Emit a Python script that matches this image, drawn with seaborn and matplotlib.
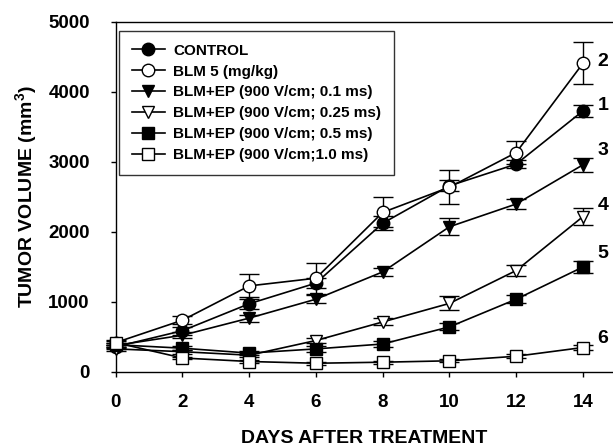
import numpy as np
import pandas as pd
import matplotlib
matplotlib.use("Agg")
import matplotlib.pyplot as plt
import seaborn as sns

days = [0, 2, 4, 6, 8, 10, 12, 14]
series_names = ["CONTROL", "BLM 5 (mg/kg)", "BLM+EP (900 V/cm; 0.1 ms)",
                "BLM+EP (900 V/cm; 0.25 ms)", "BLM+EP (900 V/cm; 0.5 ms)",
                "BLM+EP (900 V/cm;1.0 ms)"]
control = [360, 590, 975, 1270, 2125, 2660, 2970, 3730]
blm5 = [420, 740, 1230, 1340, 2280, 2640, 3135, 4410]
ep01 = [380, 525, 770, 1040, 1430, 2075, 2400, 2960]
ep025 = [330, 290, 240, 450, 715, 980, 1450, 2220]
ep05 = [390, 340, 270, 330, 400, 645, 1040, 1500]
ep10 = [420, 200, 150, 125, 140, 160, 225, 350]
control_err = [30, 60, 70, 70, 100, 80, 60, 90]
blm5_err = [40, 60, 165, 220, 215, 240, 165, 300]
ep01_err = [30, 40, 50, 60, 60, 120, 70, 100]
ep025_err = [30, 30, 30, 40, 50, 100, 85, 125]
ep05_err = [30, 30, 30, 40, 40, 50, 60, 80]
ep10_err = [30, 20, 20, 20, 20, 20, 30, 40]
curve_labels = ["1", "2", "3", "4", "5", "6"]
curve_label_y = [3810, 4430, 3170, 2385, 1700, 485]

values = [control, blm5, ep01, ep025, ep05, ep10]
errors = [control_err, blm5_err, ep01_err, ep025_err, ep05_err, ep10_err]
markers = ["o", "o", "v", "v", "s", "s"]
faces = ["black", "white", "black", "white", "black", "white"]
sizes = [9, 9, 9, 9, 8.5, 8.5]

plt.rcParams['font.family'] = ['Liberation Sans', 'DejaVu Sans']
plt.rcParams['font.weight'] = 'bold'
plt.rcParams['mathtext.fontset'] = 'custom'
plt.rcParams['mathtext.bf'] = 'Liberation Sans:bold'
plt.rcParams['mathtext.rm'] = 'Liberation Sans:bold'

fig = plt.figure(figsize=(6.13, 4.46), dpi=100)
ax = fig.add_axes([115.7 / 613, 74 / 446, (613 - 115.7) / 613, 350 / 446])

frames = []
for name, v in zip(series_names, values):
    frames.append(pd.DataFrame({"day": days, "vol": v, "group": name}))
df = pd.concat(frames, ignore_index=True)

handles = []
for i, name in enumerate(series_names):
    sub = df[df["group"] == name]
    ax.errorbar(sub["day"], sub["vol"], yerr=errors[i], fmt="none", ecolor="black",
                elinewidth=1.0, capsize=7, capthick=1.0, zorder=2, clip_on=False)
    sns.lineplot(data=sub, x="day", y="vol", ax=ax, color="black", linewidth=1.2,
                 marker=markers[i], markersize=sizes[i], markerfacecolor=faces[i],
                 markeredgecolor="black", markeredgewidth=1.0, label=name,
                 zorder=3 + i * 0.1, clip_on=False, legend=False)
    handles.append(plt.Line2D([], [], color="black", linewidth=1.2, marker=markers[i],
                              markersize=sizes[i], markerfacecolor=faces[i],
                              markeredgecolor="black", markeredgewidth=1.0))

for lab, yv in zip(curve_labels, curve_label_y):
    ax.text(14.6, yv, lab, fontsize=14, fontweight="bold", ha="center", va="center",
            clip_on=False)

ax.set_xlim(0, 14.9)
ax.set_ylim(0, 5000)
ax.set_xticks(days)
ax.set_yticks([0, 1000, 2000, 3000, 4000, 5000])
ax.tick_params(axis="both", direction="out", length=3.6, width=1, labelsize=13.5)
ax.tick_params(axis="y", pad=15)
ax.tick_params(axis="x", pad=12)
for lbl in ax.get_xticklabels() + ax.get_yticklabels():
    lbl.set_fontweight("bold")
ax.spines["right"].set_visible(False)
for s in ["left", "bottom", "top"]:
    ax.spines[s].set_linewidth(1.0)
ax.set_xlabel("DAYS AFTER TREATMENT", fontsize=14, fontweight="bold", labelpad=14)
ax.set_ylabel(r"TUMOR VOLUME (mm$^{\mathbf{3}}$)", fontsize=14, fontweight="bold", labelpad=6)

leg = ax.legend(handles, series_names, loc="upper left", bbox_to_anchor=(0.006, 0.975),
                frameon=True, fancybox=False, edgecolor="black",
                handlelength=2.2, handletextpad=0.5, labelspacing=0.45, borderpad=0.85,
                borderaxespad=0, prop={"weight": "bold", "size": 11})
leg.get_frame().set_linewidth(1.0)

fig.savefig("out.png", dpi=100)
